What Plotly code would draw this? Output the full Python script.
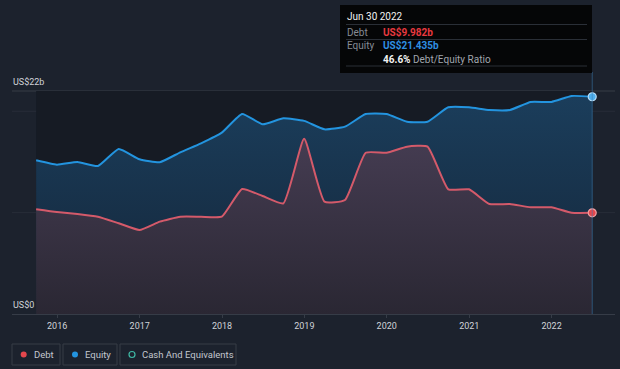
import plotly.graph_objects as go

# ---------------- data ----------------
dates = [
    "2015-09-30", "2015-12-31", "2016-03-31", "2016-06-30", "2016-09-30", "2016-12-31",
    "2017-03-31", "2017-06-30", "2017-09-30", "2017-12-31", "2018-03-31", "2018-06-30",
    "2018-09-30", "2018-12-31", "2019-03-31", "2019-06-30", "2019-09-30", "2019-12-31",
    "2020-03-31", "2020-06-30", "2020-09-30", "2020-12-31", "2021-03-31", "2021-06-30",
    "2021-09-30", "2021-12-31", "2022-03-31", "2022-06-30",
]
debt = [
    10.33, 10.06, 9.87, 9.60, 8.95, 8.29, 9.11, 9.60, 9.60, 9.60, 12.33, 11.64,
    10.92, 17.28, 11.08, 11.25, 15.91, 15.91, 16.51, 16.51, 12.30, 12.30, 10.85, 10.85,
    10.53, 10.53, 9.99, 9.982,
]
equity = [
    15.16, 14.73, 15.00, 14.60, 16.28, 15.26, 14.97, 15.95, 16.84, 17.89, 19.73, 18.72,
    19.31, 19.05, 18.22, 18.48, 19.73, 19.73, 18.97, 18.97, 20.39, 20.39, 20.13, 20.13,
    20.92, 20.92, 21.51, 21.435,
]
year_ticks = ["2016-01-01", "2017-01-01", "2018-01-01", "2019-01-01",
              "2020-01-01", "2021-01-01", "2022-01-01"]
year_labels = ["2016", "2017", "2018", "2019", "2020", "2021", "2022"]
legend_names = ["Debt", "Equity", "Cash And Equivalents"]

# ---------------- style ----------------
W, H = 620, 369
L, R, T, B = 12, 5, 72, 55
BG = "#1c222d"
BAND = "#161b24"
FONT = "Roboto"
DEBT_LINE = "#d45a6a"
EQ_LINE = "#2394df"
SMOOTH = 0.45

PW = W - L - R
PH = H - T - B


def px(x):
    return (x - L) / PW


def py(y):
    return (H - B - y) / PH


fig = go.Figure()

fig.add_trace(go.Scatter(
    x=dates, y=equity, mode="lines",
    line=dict(color=EQ_LINE, width=2, shape="spline", smoothing=SMOOTH),
    fill="tozeroy",
    fillgradient=dict(type="vertical", start=0, stop=22,
                      colorscale=[[0, "#142538"], [1, "#1b3e5c"]]),
    hoverinfo="skip",
))
fig.add_trace(go.Scatter(
    x=dates, y=debt, mode="lines",
    line=dict(color=DEBT_LINE, width=2, shape="spline", smoothing=SMOOTH),
    fill="tozeroy",
    fillgradient=dict(type="vertical", start=0, stop=18,
                      colorscale=[[0, "#2a2733"], [1, "#463d53"]]),
    hoverinfo="skip",
))
# end markers
fig.add_trace(go.Scatter(
    x=[dates[-1]], y=[equity[-1]], mode="markers",
    marker=dict(size=8, color="#4fb0ee", line=dict(color="#b9def7", width=1.2)),
    hoverinfo="skip",
))
fig.add_trace(go.Scatter(
    x=[dates[-1]], y=[debt[-1]], mode="markers",
    marker=dict(size=8, color="#e5474d", line=dict(color="#f0a0a4", width=1.2)),
    hoverinfo="skip",
))

shapes = []
# darker band over the data span
shapes.append(dict(type="rect", xref="x", yref="y", x0=dates[0], x1=dates[-1],
                   y0=0, y1=22, fillcolor=BAND, line=dict(width=0), layer="below"))
# grid lines
for v, c in [(10, "#272d38"), (20, "#272d38"), (22, "#363c47")]:
    shapes.append(dict(type="line", xref="paper", yref="y", x0=0, x1=1, y0=v, y1=v,
                       line=dict(color=c, width=1), layer="below"))
# vertical marker line at last date
shapes.append(dict(type="line", xref="x", yref="paper", x0=dates[-1], x1=dates[-1],
                   y0=0, y1=1, line=dict(color="rgba(60,125,175,0.55)", width=1)))

# tooltip box
shapes.append(dict(type="rect", xref="paper", yref="paper",
                   x0=px(340), x1=px(592), y0=py(5), y1=py(73),
                   fillcolor="#050607", line=dict(width=0)))
for yy in [24.5, 39.5, 66]:
    shapes.append(dict(type="line", xref="paper", yref="paper",
                       x0=px(346), x1=px(587), y0=py(yy), y1=py(yy),
                       line=dict(color="#2a2f37", width=1)))

annotations = []


def txt(x, y, s, color, size=10, anchor="left"):
    annotations.append(dict(xref="paper", yref="paper", x=px(x), y=py(y), text=s,
                            showarrow=False, xanchor=anchor, yanchor="middle",
                            font=dict(family=FONT, size=size, color=color)))


txt(345, 16.5, "Jun 30 2022", "#f2f2f2")
txt(345, 32, "Debt", "#858b94")
txt(381, 32, "<b>US$9.982b</b>", "#e8393f")
txt(345, 45.5, "Equity", "#858b94")
txt(381, 45.5, "<b>US$21.435b</b>", "#2f8fe2")
txt(381, 59, "<b><span style='color:#f2f2f2'>46.6%</span></b> Debt/Equity Ratio", "#a0a5ad")

# y labels
txt(11, 82, "US$22b", "#d0d3d8", size=9)
txt(11, 305, "US$0", "#d0d3d8", size=9)

# custom legend
leg = [(12, 60, 23.7, "#e5474d", 33), (63, 117, 75, "#2394df", 84), (120, 236, 132, None, 141)]
for (x0, x1, dx, col, tx), name in zip(leg, legend_names):
    shapes.append(dict(type="rect", xref="paper", yref="paper",
                       x0=px(x0), x1=px(x1), y0=py(344), y1=py(365),
                       line=dict(color="#363c47", width=1), fillcolor="rgba(0,0,0,0)"))
    if col:
        shapes.append(dict(type="circle", xref="paper", yref="paper",
                           x0=px(dx - 3), x1=px(dx + 3), y0=py(351.5), y1=py(357.5),
                           fillcolor=col, line=dict(width=0)))
    else:
        shapes.append(dict(type="circle", xref="paper", yref="paper",
                           x0=px(dx - 3), x1=px(dx + 3), y0=py(351.5), y1=py(357.5),
                           fillcolor="rgba(0,0,0,0)", line=dict(color="#3fb8a4", width=1.2)))
    txt(tx - 1, 354.5, name, "#c3c7cd", size=9.5)

fig.update_layout(
    width=W, height=H,
    margin=dict(l=L, r=R, t=T, b=B),
    paper_bgcolor=BG, plot_bgcolor=BG,
    showlegend=False,
    hovermode=False,
    shapes=shapes,
    annotations=annotations,
    font=dict(family=FONT),
    xaxis=dict(
        type="date", range=["2015-06-15", "2022-10-09"],
        tickvals=year_ticks, ticktext=year_labels,
        showgrid=False, zeroline=False,
        showline=True, linecolor="#363c47", linewidth=1,
        ticks="outside", ticklen=3, tickcolor="#363c47",
        tickfont=dict(family=FONT, size=9, color="#d0d3d8"),
        fixedrange=True,
    ),
    yaxis=dict(
        range=[0, 22 + 19 / (223 / 22)],
        showgrid=False, zeroline=False, showticklabels=False,
        fixedrange=True,
    ),
)

fig.write_html(
    "out.html",
    config={"displayModeBar": False},
    post_script="document.body.style.margin='0';document.body.style.padding='0';"
                "document.body.style.background='" + BG + "';"
                "document.documentElement.style.overflow='hidden';",
)
